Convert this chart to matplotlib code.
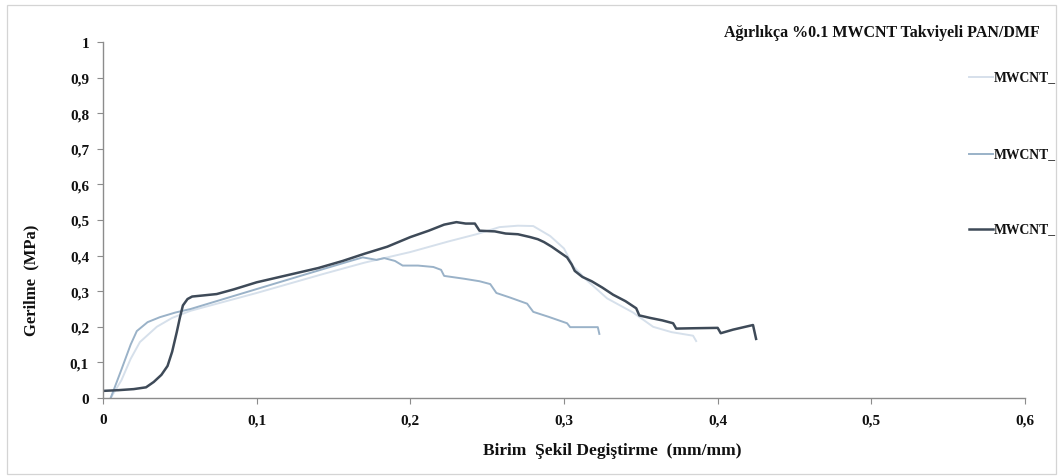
import matplotlib
matplotlib.use("Agg")
import matplotlib.pyplot as plt
from matplotlib.lines import Line2D
from matplotlib.patches import Rectangle

# ---- data ----
dark_x = [0.000, 0.010, 0.020, 0.028, 0.033, 0.038, 0.042, 0.045, 0.048, 0.050, 0.052, 0.055,
          0.058, 0.065, 0.074, 0.085, 0.100, 0.120, 0.140, 0.156, 0.170, 0.185, 0.200, 0.212,
          0.222, 0.230, 0.236, 0.242, 0.245, 0.255, 0.262, 0.270, 0.278, 0.283, 0.287, 0.292,
          0.297, 0.302, 0.305, 0.307, 0.312, 0.318, 0.325, 0.332, 0.340, 0.347, 0.349, 0.356,
          0.364, 0.371, 0.373, 0.385, 0.400, 0.402, 0.410, 0.423, 0.425]
dark_y = [0.020, 0.022, 0.025, 0.030, 0.045, 0.065, 0.090, 0.130, 0.185, 0.225, 0.260, 0.278,
          0.285, 0.288, 0.292, 0.305, 0.325, 0.345, 0.365, 0.385, 0.405, 0.425, 0.452, 0.470,
          0.487, 0.494, 0.490, 0.490, 0.470, 0.468, 0.462, 0.460, 0.452, 0.446, 0.438, 0.425,
          0.410, 0.395, 0.375, 0.357, 0.340, 0.328, 0.310, 0.290, 0.272, 0.252, 0.232, 0.225,
          0.218, 0.210, 0.195, 0.196, 0.197, 0.182, 0.192, 0.205, 0.166]

mid_x = [0.005, 0.012, 0.018, 0.022, 0.029, 0.037, 0.047, 0.057, 0.080, 0.100, 0.130, 0.161,
         0.169, 0.178, 0.183, 0.190, 0.195, 0.205, 0.215, 0.220, 0.222, 0.235, 0.245, 0.252,
         0.256, 0.265, 0.276, 0.280, 0.290, 0.302, 0.304, 0.322, 0.323]
mid_y = [0.000, 0.080, 0.150, 0.188, 0.213, 0.227, 0.240, 0.250, 0.280, 0.306, 0.345, 0.385,
         0.395, 0.388, 0.393, 0.385, 0.372, 0.372, 0.368, 0.360, 0.343, 0.335, 0.328, 0.320,
         0.295, 0.282, 0.265, 0.242, 0.228, 0.210, 0.199, 0.199, 0.180]

light_x = [0.005, 0.012, 0.018, 0.024, 0.035, 0.045, 0.057, 0.100, 0.143, 0.170, 0.200, 0.225,
           0.243, 0.258, 0.270, 0.280, 0.291, 0.300, 0.306, 0.315, 0.328, 0.345, 0.358, 0.370,
           0.384, 0.386]
light_y = [0.000, 0.050, 0.110, 0.157, 0.200, 0.225, 0.245, 0.295, 0.348, 0.380, 0.410, 0.440,
           0.460, 0.480, 0.484, 0.483, 0.455, 0.420, 0.370, 0.330, 0.280, 0.240, 0.200, 0.185,
           0.175, 0.160]

series_labels = ["MWCNT_", "MWCNT_", "MWCNT_"]
legend_title = "Ağırlıkça %0.1 MWCNT Takviyeli PAN/DMF"
x_ticks = [0, 0.1, 0.2, 0.3, 0.4, 0.5, 0.6]
y_ticks = [0, 0.1, 0.2, 0.3, 0.4, 0.5, 0.6, 0.7, 0.8, 0.9, 1.0]

def fmt(v):
    s = ("%g" % round(v, 2))
    return s.replace(".", ",")

# ---- figure ----
plt.rcParams['font.family'] = ['Liberation Serif', 'DejaVu Serif']
plt.rcParams['font.weight'] = 'bold'

W, H = 1058, 477
fig = plt.figure(figsize=(W / 100, H / 100), dpi=100)
fig.patches.append(Rectangle((7 / W, 1 - 475 / H), 1049 / W, 469 / H, transform=fig.transFigure,
                             fill=False, edgecolor='#d4d4d4', linewidth=0.9))

ax = fig.add_axes([103 / W, 1 - 399 / H, (1025 - 103) / W, (399 - 43) / H])

c_light = '#d6e0eb'
c_mid = '#9ab2c8'
c_dark = '#3e4a58'

l1, = ax.plot(light_x, light_y, color=c_light, lw=1.4)
l2, = ax.plot(mid_x, mid_y, color=c_mid, lw=1.4)
l3, = ax.plot(dark_x, dark_y, color=c_dark, lw=1.8)

ax.set_xlim(0, 0.6)
ax.set_ylim(0, 1)
ax.set_xticks(x_ticks)
ax.set_xticklabels([fmt(v) for v in x_ticks])
ax.set_yticks(y_ticks)
ax.set_yticklabels([fmt(v) for v in y_ticks])
for s in ['top', 'right']:
    ax.spines[s].set_visible(False)
for s in ['left', 'bottom']:
    ax.spines[s].set_color('#8c8c8c')
    ax.spines[s].set_linewidth(1.0)
ax.tick_params(axis='both', direction='out', length=4, color='#8c8c8c', labelsize=11,
               labelcolor='#111111')
ax.tick_params(axis='x', pad=7)
ax.tick_params(axis='y', pad=6)
for lab in ax.get_xticklabels() + ax.get_yticklabels():
    lab.set_fontweight('bold')

ax.set_xlabel("Birim  Şekil Degiştirme  (mm/mm)", fontsize=12.5, fontweight='bold', color='#111111')
ax.xaxis.set_label_coords((612 - 103) / (1025 - 103), -(443 - 399) / (399 - 43))
ax.set_ylabel("Gerilme  (MPa)", fontsize=12, fontweight='bold', color='#111111')
ax.yaxis.set_label_coords(-(103 - 39) / (1025 - 103), (399 - 280) / (399 - 43))

# legend (manual, to match reference spacing)
fig.text(1040 / W, 1 - 33 / H, legend_title, ha='right', va='center', fontsize=11.5,
         fontweight='bold', color='#111111')
for yy, col, lw, lab in [(78, c_light, 1.4, series_labels[0]),
                         (155, c_mid, 1.4, series_labels[1]),
                         (230, c_dark, 1.8, series_labels[2])]:
    fig.lines.append(Line2D([969 / W, 993 / W], [1 - yy / H, 1 - yy / H], transform=fig.transFigure,
                            color=col, lw=lw))
    fig.text(994 / W, 1 - yy / H, lab, ha='left', va='center', fontsize=9.8, fontweight='bold',
             color='#111111')

fig.savefig("out.png", dpi=100)
